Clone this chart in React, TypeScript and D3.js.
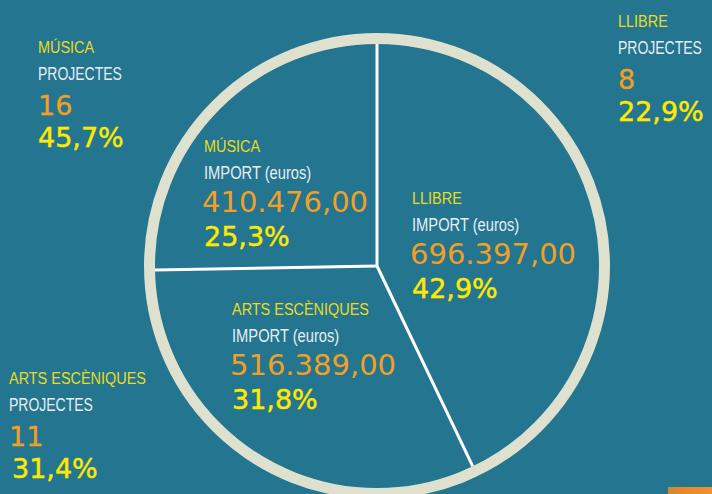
import React from "react";
import * as d3 from "d3";

const categories = ["LLIBRE", "ARTS ESCÈNIQUES", "MÚSICA"];
const importValues = [696397.0, 516389.0, 410476.0];
const importLabels = ["696.397,00", "516.389,00", "410.476,00"];
const importPercents = ["42,9%", "31,8%", "25,3%"];
const projectValues = [8, 11, 16];
const projectPercents = ["22,9%", "31,4%", "45,7%"];

const W = 712;
const H = 494;
const BG = "#237590";
const RING = "#dee1cd";
const CAT = "#e9dc1e";
const WHITE = "#e8eef2";
const ORANGE = "#f2a024";
const PCT = "#ffe900";

const LABEL_FONT = "'Liberation Sans', Arial, sans-serif";
const NUM_FONT = "'DejaVu Sans', Verdana, sans-serif";

// layout positions for text blocks (inside pie: import; outside: projects)
const innerPos = [
  { x: 412, y: 204 },
  { x: 232, y: 315 },
  { x: 204, y: 152 },
];
const outerPos = [
  { x: 618, y: 27 },
  { x: 9, y: 384 },
  { x: 38, y: 53 },
];

function Narrow(props: { x: number; y: number; size: number; fill: string; sx?: number; children: React.ReactNode }) {
  const sx = props.sx ?? 0.84;
  return (
    <text
      transform={`translate(${props.x},${props.y}) scale(${sx},1)`}
      fill={props.fill}
      fontFamily={LABEL_FONT}
      fontSize={props.size}
    >
      {props.children}
    </text>
  );
}

export default function App() {
  const cx = 377;
  const cy = 266;
  const rOuter = 233;
  const ringW = 11;
  const rInner = rOuter - ringW;

  const pie = d3.pie<number>().sort(null).value((d) => d);
  const arcs = pie(importValues);
  const arcGen = d3.arc<d3.PieArcDatum<number>>().innerRadius(0).outerRadius(rInner);

  return (
    <svg
      width={W}
      height={H}
      style={{ position: "absolute", left: 0, top: 0, display: "block" }}
    >
      <rect x={0} y={0} width={W} height={H} fill={BG} />
      <defs>
        <linearGradient id="org" x1="0" x2="1" y1="0" y2="0">
          <stop offset="0" stopColor="#c98a3a" />
          <stop offset="0.3" stopColor="#e8862a" />
          <stop offset="1" stopColor="#f09030" />
        </linearGradient>
      </defs>
      <rect x={668} y={487} width={44} height={7} fill="url(#org)" />
      <g transform={`translate(${cx},${cy})`}>
        {arcs.map((a, i) => (
          <path key={i} d={arcGen(a) || ""} fill={BG} />
        ))}
        {arcs.map((a, i) => {
          const ang = a.startAngle;
          return (
            <line
              key={"l" + i}
              x1={0}
              y1={0}
              x2={Math.sin(ang) * rInner}
              y2={-Math.cos(ang) * rInner}
              stroke="#ffffff"
              strokeWidth={3}
            />
          );
        })}
        <circle r={rOuter - ringW / 2} fill="none" stroke={RING} strokeWidth={ringW} />
      </g>
      {categories.map((c, i) => {
        const p = innerPos[i];
        return (
          <g key={"in" + i}>
            <Narrow x={p.x} y={p.y} size={17} fill={CAT} sx={0.85}>
              {c}
            </Narrow>
            <Narrow x={p.x} y={p.y + 27} size={17.5} fill={WHITE}>
              IMPORT (euros)
            </Narrow>
            <text x={p.x - 2} y={p.y + 60} fill={ORANGE} fontFamily={NUM_FONT} fontSize={29}>
              {importLabels[i]}
            </text>
            <text x={p.x} y={p.y + 94} fill={PCT} stroke={PCT} strokeWidth={0.45} fontFamily={NUM_FONT} fontSize={27}>
              {importPercents[i]}
            </text>
          </g>
        );
      })}
      {categories.map((c, i) => {
        const p = outerPos[i];
        return (
          <g key={"out" + i}>
            <Narrow x={p.x} y={p.y} size={17} fill={CAT} sx={0.85}>
              {c}
            </Narrow>
            <Narrow x={p.x} y={p.y + 27} size={17.5} fill={WHITE} sx={0.8}>
              PROJECTES
            </Narrow>
            <text x={p.x} y={p.y + 62} fill={ORANGE} stroke={ORANGE} strokeWidth={0.3} fontFamily={NUM_FONT} fontSize={27}>
              {String(projectValues[i])}
            </text>
            <text x={p.x + (i === 1 ? 3 : 0)} y={p.y + 94} fill={PCT} stroke={PCT} strokeWidth={0.45} fontFamily={NUM_FONT} fontSize={27}>
              {projectPercents[i]}
            </text>
          </g>
        );
      })}
    </svg>
  );
}
